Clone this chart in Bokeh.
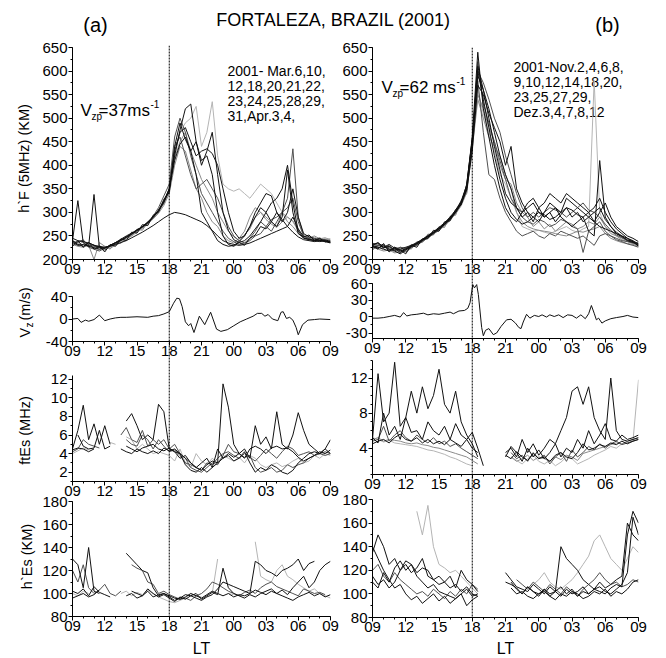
import numpy as np
from math import pi
from bokeh.plotting import figure
from bokeh.models import Range1d, FixedTicker, Span, Label
from bokeh.layouts import column
from bokeh.embed import file_html
from bokeh.resources import INLINE

W, H = 666, 658
FONT = "Liberation Sans"

# ---------------- data ----------------
# half-hourly local time from 09 LT to 09 LT next day (24 = 00 LT)
t_half = [9 + 0.5 * i for i in range(49)]
x_ticks = [9, 12, 15, 18, 21, 24, 27, 30, 33]
x_tick_labels = ["09", "12", "15", "18", "21", "00", "03", "06", "09"]

# (a) h'F, March-April 2001
hf_a1 = [240,325,235,228,225,222,225,230,236,243,250,256,263,270,279,290,305,325,350,420,475,520,530,450,400,430,470,380,300,262,242,236,240,250,265,280,300,320,330,350,400,320,260,245,242,240,238,240,236]
hf_a2 = [235,238,240,230,228,225,220,228,233,240,247,255,262,270,280,292,310,335,360,460,500,470,420,380,340,320,300,280,260,245,238,232,235,240,250,255,270,285,290,300,310,330,280,250,245,240,243,240,238]
hf_a3 = [230,235,228,232,225,230,222,226,232,238,245,252,260,268,276,288,300,318,345,420,470,490,500,525,440,470,535,420,360,350,345,350,340,330,345,360,350,340,320,300,290,280,260,250,245,248,242,245,240]
hf_a4 = [245,240,238,235,230,228,226,228,232,236,240,246,252,258,265,272,280,288,295,300,298,295,290,285,280,272,262,250,240,235,232,230,232,235,240,245,250,255,260,265,270,258,248,242,240,238,240,238,235]
hf_a5 = [240,232,228,236,230,226,224,230,236,241,248,254,262,269,278,290,303,322,348,430,470,480,450,420,430,435,425,400,350,300,260,245,250,270,300,320,340,335,300,280,300,350,290,255,248,245,240,242,238]
hf_a6 = [238,236,242,226,222,218,224,229,234,240,246,253,261,268,277,289,302,320,346,440,460,420,380,350,360,370,350,330,300,270,250,240,235,245,260,280,270,260,280,300,330,435,290,250,244,242,244,240,237]
hf_a7 = [232,228,226,230,200,236,228,224,230,236,243,250,258,266,275,286,298,315,340,400,440,430,390,350,330,300,280,270,250,240,235,245,260,290,310,300,290,280,270,300,280,270,255,248,246,250,244,246,242]
hf_a8 = [236,230,232,228,338,226,224,230,235,241,247,254,262,270,278,290,304,323,349,410,445,460,430,380,300,280,260,240,232,228,230,238,250,270,290,310,300,280,270,290,390,300,255,246,243,240,241,239,236]
hf_a9 = [242,230,238,226,232,220,228,222,236,234,248,250,265,262,280,286,306,318,352,415,450,470,430,400,370,350,330,300,280,260,248,240,252,265,290,300,285,275,268,280,290,282,262,250,247,243,246,241,244]
hf_a10 = [228,240,226,236,222,228,216,232,228,244,240,258,256,274,272,294,300,328,342,440,490,455,430,450,410,420,380,300,250,232,228,236,230,245,252,270,265,280,300,285,270,290,265,248,252,241,245,237,240]

# (b) h'F, November-December 2001
hf_b1 = [230,226,222,218,224,215,222,228,234,241,249,257,265,275,287,301,320,352,450,600,540,480,420,370,330,300,285,275,280,290,300,295,285,290,300,310,305,295,290,300,310,330,300,280,265,255,245,240,232]
hf_b2 = [222,228,220,225,215,220,218,226,232,240,247,255,263,272,284,298,316,345,440,560,510,470,430,380,360,330,300,270,265,260,262,258,255,260,265,270,262,258,265,270,580,300,270,260,250,245,240,236,230]
hf_b3 = [232,235,225,228,220,222,226,230,236,243,251,259,268,278,290,305,324,358,460,640,520,460,400,350,310,290,280,300,310,320,300,290,300,310,290,280,270,280,290,260,250,410,290,270,255,248,242,238,230]
hf_b4 = [228,224,230,222,218,212,220,227,233,240,248,256,265,274,286,300,318,348,430,570,550,510,480,450,400,440,350,320,300,290,280,300,320,310,300,330,320,310,300,290,280,270,265,260,255,250,245,238,228]
hf_b5 = [235,230,228,225,222,226,224,229,235,242,250,258,267,277,289,303,322,355,455,580,470,380,370,330,300,280,260,250,255,260,250,245,255,250,260,255,250,245,250,240,230,250,255,250,245,240,238,235,232]
hf_b6 = [226,222,218,220,214,216,221,226,231,238,246,254,262,271,283,297,314,342,435,540,500,460,440,420,380,350,300,280,270,265,262,260,258,255,252,250,255,260,258,262,265,270,255,245,240,236,234,232,228]
hf_b7 = [230,236,226,232,224,218,223,228,234,241,249,257,266,276,288,302,321,353,448,590,560,500,440,390,340,320,310,300,320,330,310,320,340,330,320,340,330,320,310,300,280,300,320,290,270,260,250,245,238]
hf_b8 = [225,230,232,220,226,222,216,225,231,238,246,254,263,273,285,299,317,347,445,620,530,490,450,410,370,330,310,290,280,275,285,280,270,275,285,280,270,265,215,260,270,280,260,250,242,238,233,230,226]
hf_b9 = [228,222,234,216,226,220,212,230,226,244,244,262,260,280,282,306,316,360,455,610,560,520,470,420,380,350,310,290,300,280,310,290,300,280,295,310,290,300,280,290,300,310,285,270,258,250,240,236,234]
hf_b10 = [234,226,228,220,222,214,226,222,238,236,254,252,270,268,292,294,326,340,448,550,520,480,450,400,370,360,320,300,290,270,280,265,275,260,270,280,275,265,270,280,275,290,270,255,250,242,238,234,230]
hf_b11 = [220,232,224,230,218,226,220,232,230,240,250,254,268,274,286,300,322,350,452,600,575,540,500,470,420,380,340,310,290,300,290,300,310,305,300,290,300,310,320,305,300,290,275,262,252,246,240,238,235]

# Vertical drift Vz (m/s)
vz_a_t = [9.0,9.5,9.8,10.2,10.5,11.0,11.5,12.0,12.5,13.0,13.5,14.0,15.0,16.0,16.5,17.0,17.5,18.0,18.4,18.7,18.95,19.2,19.5,19.8,20.0,20.3,20.8,21.3,21.85,22.4,22.8,23.4,24.0,24.6,25.2,25.8,26.2,26.6,26.9,27.2,27.6,28.1,28.4,28.6,28.9,29.2,29.5,29.8,30.0,30.4,30.9,31.5,32.0,33.0]
vz_a = [0,1,-6,-2,-4,-1,7,-3,0,2,3,3,4,3,5,6,9,13,28,37,36,22,-5,-12,-8,-24,5,-10,12,-18,-22,-19,-12,-5,0,5,10,10,5,8,0,-3,12,13,1,3,-2,-15,-28,-10,-2,-1,0,-1]
vz_b_t = [9.0,9.5,10.0,10.5,11.0,11.5,11.8,12.1,12.5,13.0,13.6,14.0,14.5,15.0,15.5,16.0,16.3,16.8,17.3,17.6,17.8,17.95,18.05,18.2,18.4,18.55,18.7,18.85,19.0,19.2,19.5,19.9,20.2,20.6,21.1,21.5,21.9,22.2,22.4,22.6,22.9,23.2,23.6,24.0,24.3,24.7,25.0,25.4,25.8,26.2,26.6,27.0,27.4,27.8,28.2,28.5,28.75,29.0,29.2,29.4,29.7,30.0,30.5,31.0,31.6,32.0,32.5,33.0]
vz_b = [-3,-3,-2,0,2,-1,7,1,3,4,6,3,5,4,6,8,5,10,11,15,25,45,58,52,58,40,10,-20,-35,-25,-22,-33,-30,-18,-6,-5,-12,-20,-22,-10,4,-3,2,0,3,-1,3,0,3,-2,3,2,-3,3,-4,5,20,6,-6,-3,-12,-8,-4,-2,0,2,-1,-2]

# ftEs (MHz)
fte_a1 = [4.5,6.5,9.2,5.5,7.2,5.0,7.0,5.0,None,None,7.5,8.3,7.0,5.5,6.0,5.5,9.3,8.5,4.5,4.2,4.0,3.5,3.0,2.5,3.0,3.5,2.5,3.0,11.5,9.0,5.0,4.0,4.5,3.5,7.0,5.0,5.8,4.5,8.5,5.0,4.5,6.0,8.4,6.5,5.0,4.5,4.0,4.5,5.5]
fte_a2 = [4.2,4.5,5.5,5.0,4.8,4.6,None,None,None,None,5.5,5.0,4.8,6.0,5.5,4.5,5.5,4.8,4.2,4.4,3.8,3.0,2.8,2.5,2.2,3.0,2.8,3.5,4.0,4.2,3.8,3.5,4.0,3.6,3.2,3.8,4.5,4.0,3.5,4.2,4.8,4.5,3.8,4.0,4.2,3.8,4.0,4.2,4.0]
fte_a3 = [None,6.0,4.8,4.5,4.6,6.5,4.5,4.8,None,4.5,4.2,4.0,4.5,4.2,4.0,4.3,4.0,4.6,4.3,4.5,4.0,2.8,2.2,2.0,2.5,2.0,2.5,4.5,3.5,3.8,3.2,3.5,4.2,3.0,2.0,2.5,2.2,2.8,2.5,2.0,1.8,2.2,3.0,3.5,4.0,4.2,4.0,4.5,4.0]
fte_a4 = [4.0,4.3,4.6,4.4,None,4.8,None,5.2,5.0,None,5.8,5.5,4.5,5.0,4.5,4.0,4.2,4.0,3.8,3.2,4.5,3.0,2.5,4.0,3.2,2.8,3.5,3.0,3.8,3.5,3.2,3.6,3.0,3.8,3.5,2.8,2.5,2.8,3.0,2.6,2.8,3.2,3.5,3.0,3.2,3.8,3.5,4.0,3.8]
fte_a5 = [4.4,4.6,4.5,4.2,4.5,None,None,None,None,None,4.8,4.5,4.2,4.6,4.8,5.0,4.5,4.3,4.6,4.2,3.5,3.8,3.0,2.5,2.2,2.8,3.2,3.0,3.5,4.0,3.6,4.0,3.5,4.5,4.8,4.5,4.0,4.6,4.8,4.5,4.6,4.2,3.6,3.2,3.5,3.8,4.2,4.0,4.4]
fte_a6 = [None,None,None,None,None,None,None,None,None,6.0,6.8,5.5,5.2,6.5,4.8,5.5,5.0,5.5,4.5,5.0,4.0,3.5,2.5,2.2,2.0,2.5,3.0,2.8,3.8,5.0,4.2,4.0,3.6,3.8,2.5,2.0,2.2,2.5,2.0,2.2,2.8,2.5,2.8,3.0,3.5,3.8,4.0,3.8,4.0]

fte_b1 = [5.0,12.5,7.0,8.0,13.8,6.5,7.5,10.5,8.0,11.0,8.5,10.0,13.0,9.0,8.0,10.5,7.0,5.5,4.5,3.0,None,None,None,None,3.5,4.0,3.0,5.0,3.5,4.5,3.2,4.0,5.0,4.5,6.0,7.5,10.5,11.0,9.0,11.0,7.5,6.0,5.0,12.0,6.0,5.0,4.8,5.0,5.2]
fte_b2 = [5.0,5.2,4.8,5.0,4.9,4.8,4.6,4.5,4.6,4.4,4.3,4.1,4.0,3.8,3.6,3.4,3.2,3.0,2.6,2.2,None,None,None,None,None,3.0,2.5,2.8,3.2,2.6,3.0,2.8,2.5,3.0,2.7,3.2,3.0,2.6,3.4,3.6,3.8,4.0,4.2,4.4,4.6,4.5,4.8,5.0,5.2]
fte_b3 = [5.2,4.6,8.0,5.5,6.5,5.0,7.5,5.8,6.0,5.0,7.0,6.0,5.5,6.5,5.0,6.8,5.5,5.0,5.8,4.0,2.0,None,None,None,3.0,4.2,3.5,2.5,4.0,3.0,3.8,2.8,3.5,4.5,3.0,4.0,3.5,5.0,4.0,6.0,4.5,5.5,6.8,5.0,4.8,5.5,5.0,5.2,5.5]
fte_b4 = [4.8,5.0,6.5,4.8,5.5,6.0,5.2,4.8,5.5,5.0,4.6,5.2,4.5,4.8,4.2,4.5,4.0,3.6,3.2,2.8,None,None,None,None,None,3.5,2.8,3.2,2.5,3.5,2.8,3.2,2.2,3.0,3.5,2.5,3.8,3.0,3.5,4.2,3.8,4.5,4.0,4.5,4.8,4.4,4.6,4.8,5.0]
fte_b5 = [4.5,4.8,5.0,4.6,5.2,5.6,5.0,4.8,5.2,4.6,5.0,4.5,4.8,4.4,5.0,4.6,4.2,5.0,4.0,3.5,None,None,None,None,3.2,2.8,3.6,3.0,2.6,3.4,2.8,3.0,2.5,3.2,3.5,3.0,2.8,3.5,4.5,3.8,4.0,4.4,4.2,4.6,4.4,4.8,4.5,4.8,5.0]
fte_b6 = [5.2,5.0,4.7,4.9,4.6,4.5,4.4,4.3,4.2,4.0,3.8,3.7,3.5,3.3,3.0,2.8,2.5,2.2,2.0,None,None,None,None,None,None,3.0,2.6,2.2,2.8,3.2,2.5,2.2,2.6,2.0,2.4,3.0,2.8,2.2,2.5,2.8,3.2,3.5,3.8,4.2,4.0,4.5,4.6,4.8,11.8]

# h'Es (km)
hes_a1 = [130,125,105,140,102,100,None,None,None,None,135,130,125,120,118,105,98,100,98,96,95,97,100,98,96,99,102,100,98,100,97,99,98,100,128,125,120,118,115,120,122,125,130,120,126,128,None,None,None]
hes_a2 = [120,110,125,105,100,103,108,100,98,102,None,125,122,120,110,108,100,102,99,97,95,96,94,98,100,104,110,108,105,102,100,98,101,103,100,105,108,110,106,104,102,100,98,104,102,100,101,99,None]
hes_a3 = [100,98,102,100,None,98,None,99,None,100,102,98,101,99,103,100,97,95,93,92,94,96,100,98,97,None,100,130,None,100,99,None,98,None,145,115,112,110,120,125,115,112,108,105,102,104,100,98,96]
hes_a4 = [102,100,104,98,106,101,99,97,None,None,98,100,96,98,102,97,99,100,97,94,96,99,98,96,94,97,99,104,110,108,106,104,102,100,103,101,99,102,100,98,96,94,97,99,101,98,100,97,99]
hes_a5 = [96,98,100,97,99,103,None,None,None,None,None,102,100,98,104,100,97,99,96,93,97,95,98,100,95,98,101,99,122,105,100,98,96,99,97,100,102,104,100,103,99,105,110,115,105,110,120,125,128]

hes_b1 = [135,150,140,125,130,120,125,118,122,130,115,112,108,110,115,105,120,112,108,102,None,None,None,None,110,108,105,100,106,102,100,104,98,102,106,100,104,98,102,100,104,110,105,108,112,115,160,150,145]
hes_b2 = [110,105,118,110,122,128,120,125,115,110,105,108,102,100,98,96,100,104,98,100,None,None,None,None,118,112,106,104,102,108,104,100,106,102,140,130,125,120,112,108,104,106,102,100,104,108,118,165,150]
hes_b3 = [140,130,120,112,105,108,100,95,98,92,96,100,94,98,92,96,100,90,95,98,None,None,None,None,None,105,100,102,98,96,100,102,98,95,100,98,102,100,96,98,102,100,104,98,102,100,104,110,112]
hes_b4 = [None,None,None,None,None,None,None,None,170,150,175,140,125,122,118,120,115,110,105,100,None,None,None,None,None,None,None,88,None,108,112,118,110,106,104,108,112,118,125,132,145,150,140,130,125,120,130,140,135]
hes_b5 = [115,108,112,105,110,120,128,125,118,122,120,112,115,110,105,108,102,106,100,98,None,None,None,None,None,110,104,100,106,102,98,104,100,102,98,104,100,102,106,100,104,102,100,105,108,106,150,170,160]
hes_b6 = [120,125,115,110,118,112,108,104,100,102,98,104,100,96,102,98,104,100,108,104,None,None,None,None,None,None,112,108,104,110,106,102,108,104,100,106,102,98,104,108,112,118,112,108,110,106,108,112,110]

BK, DG, MG, LG = "#111111", "#505050", "#8a8a8a", "#b4b4b4"

# ---------------- layout helpers ----------------
# every figure shares the same left/right border so the column does not realign them;
# each figure is then shifted into place with its CSS margin.
L0, R0 = 72, 10


def base_fig(fl, fr, ft, fb, xr, yr):
    f = figure(width=L0 + (fr - fl) + R0, height=H, output_backend="svg",
               toolbar_location=None, x_range=xr, y_range=yr,
               min_border_left=L0, min_border_right=R0,
               min_border_top=ft, min_border_bottom=H - fb,
               background_fill_color=None, border_fill_color=None,
               outline_line_color=None)
    f.tags = [fl - L0]
    return f


def style_axis(ax, ticks, minor, overrides, standoff):
    ax.ticker = FixedTicker(ticks=ticks, minor_ticks=minor)
    ax.major_label_overrides = overrides
    ax.major_label_text_font = FONT
    ax.major_label_text_font_size = "15px"
    ax.major_label_text_color = "black"
    ax.major_label_standoff = standoff
    ax.axis_line_color = "black"
    ax.major_tick_line_color = "black"
    ax.minor_tick_line_color = "black"
    ax.major_tick_in = 0
    ax.major_tick_out = 4
    ax.minor_tick_in = 0
    ax.minor_tick_out = 2


def panel(fl, fr, ft, fb, y0, y1, yticks, yminor, series):
    p = base_fig(fl, fr, ft, fb, Range1d(9, 33), Range1d(y0, y1))
    p.grid.visible = False
    style_axis(p.xaxis[0], x_ticks, list(range(9, 34)),
               {k: v for k, v in zip(x_ticks, x_tick_labels)}, 0)
    style_axis(p.yaxis[0], yticks, yminor, {k: str(k) for k in yticks}, 1)
    for xs, ys, col in series:
        p.line(xs, np.array(ys, dtype=float), line_color=col, line_width=1)
    return p


AL, AR = 72, 330
BL, BR = 372, 638

A1 = panel(AL, AR, 47, 259, 200, 650, list(range(200, 651, 50)), list(range(200, 651, 25)),
           [(t_half, hf_a7, MG), (t_half, hf_a3, LG), (t_half, hf_a9, MG), (t_half, hf_a2, DG),
            (t_half, hf_a6, DG), (t_half, hf_a1, BK), (t_half, hf_a4, BK), (t_half, hf_a5, BK),
            (t_half, hf_a8, BK), (t_half, hf_a10, BK)])
A2 = panel(AL, AR, 296, 341, -40, 40, [-40, 0, 40], [-40, -20, 0, 20, 40],
           [(vz_a_t, vz_a, BK)])
A3 = panel(AL, AR, 375, 481, 1, 12.4, [2, 4, 6, 8, 10, 12], list(range(1, 13)),
           [(t_half, fte_a4, LG), (t_half, fte_a2, DG), (t_half, fte_a6, DG),
            (t_half, fte_a3, BK), (t_half, fte_a5, BK), (t_half, fte_a1, BK)])
A4 = panel(AL, AR, 501, 616, 80, 180, list(range(80, 181, 20)), list(range(80, 181, 10)),
           [(t_half, hes_a3, LG), (t_half, hes_a2, DG), (t_half, hes_a4, BK),
            (t_half, hes_a5, BK), (t_half, hes_a1, BK)])

B1 = panel(BL, BR, 47, 259, 200, 650, list(range(200, 651, 50)), list(range(200, 651, 25)),
           [(t_half, hf_b2, LG), (t_half, hf_b6, MG), (t_half, hf_b10, MG), (t_half, hf_b5, DG),
            (t_half, hf_b8, DG), (t_half, hf_b11, DG), (t_half, hf_b1, BK), (t_half, hf_b3, BK),
            (t_half, hf_b4, BK), (t_half, hf_b7, BK), (t_half, hf_b9, BK)])
B2 = panel(BL, BR, 283, 338, -40, 60, [-30, 0, 30, 60], [-30, -15, 0, 15, 30, 45, 60],
           [(vz_b_t, vz_b, BK)])
B3 = panel(BL, BR, 360, 474, 1, 14, [4, 8, 12], list(range(1, 15)),
           [(t_half, fte_b6, LG), (t_half, fte_b2, MG), (t_half, fte_b4, DG),
            (t_half, fte_b3, BK), (t_half, fte_b5, BK), (t_half, fte_b1, BK)])
B4 = panel(BL, BR, 499, 617, 80, 180, list(range(80, 181, 20)), list(range(80, 181, 10)),
           [(t_half, hes_b4, LG), (t_half, hes_b6, DG), (t_half, hes_b3, BK),
            (t_half, hes_b5, BK), (t_half, hes_b2, BK), (t_half, hes_b1, BK)])


# dotted 18 LT reference line spanning each whole column
def vline(fl, fr, ft, fb):
    f = base_fig(fl, fr, ft, fb, Range1d(9, 33), Range1d(0, 1))
    f.xaxis.visible = False
    f.yaxis.visible = False
    f.grid.visible = False
    f.add_layout(Span(location=18, dimension="height", line_color="black",
                      line_width=1, line_dash="2 1"))
    return f


VA = vline(AL, AR, 45, 616)
VB = vline(BL, BR, 47, 617)


# text overlays: data coordinates equal page pixels
def text_fig(fl, fr):
    f = base_fig(fl, fr, 0, H, Range1d(fl, fr), Range1d(0, H))
    f.xaxis.visible = False
    f.yaxis.visible = False
    f.grid.visible = False
    return f


ov = text_fig(L0, W - R0)      # main area, x 72..656
ovl = text_fig(0, 70)          # left strip for the y-axis titles


def txt(fig, x, py, s, size, align="left", angle=0.0, baseline="middle"):
    fig.add_layout(Label(x=x, y=H - py, text=s, text_font=FONT, text_font_size=size,
                         text_align=align, text_baseline=baseline, angle=angle,
                         text_color="black"))


txt(ov, 333, 19, "FORTALEZA, BRAZIL (2001)", "18px", "center")
txt(ov, 95, 24, "(a)", "20px", "center")
txt(ov, 607, 24, "(b)", "20px", "center")

for i, s in enumerate(["2001- Mar.6,10,", "12,18,20,21,22,", "23,24,25,28,29,", "31,Apr.3,4,"]):
    txt(ov, 227, 70 + 15 * i, s, "14px")
for i, s in enumerate(["2001-Nov.2,4,6,8,", "9,10,12,14,18,20,", "23,25,27,29,", "Dez.3,4,7,8,12"]):
    txt(ov, 513, 66 + 15 * i, s, "14px")

# V_zp annotations
txt(ov, 80, 110, "V", "17px")
txt(ov, 91, 116, "zp", "10px")
txt(ov, 98, 110, "=37ms", "17px")
txt(ov, 150, 103, "-1", "10px")
txt(ov, 381, 87, "V", "17px")
txt(ov, 392, 93, "zp", "10px")
txt(ov, 399, 87, "=62 ms", "17px")
txt(ov, 456, 80, "-1", "10px")

txt(ov, (AL + AR) / 2, 648, "LT", "16px", "center")
txt(ov, (BL + BR) / 2, 648, "LT", "16px", "center")

# y-axis titles (rotated)
txt(ovl, 23, 158, "h`F (5MHz) (KM)", "14.5px", "center", pi / 2)
txt(ovl, 24, 337, "V", "14.5px", "left", pi / 2)
txt(ovl, 29, 327, "z", "10px", "left", pi / 2)
txt(ovl, 24, 320, "(m/s)", "14.5px", "left", pi / 2)
txt(ovl, 24, 430, "ftEs (MHz)", "14.5px", "center", pi / 2)
txt(ovl, 26, 556, "h`Es (KM)", "14.5px", "center", pi / 2)

figs = [ov, ovl, A1, A2, A3, A4, B1, B2, B3, B4, VA, VB]
for i, f in enumerate(figs):
    top = 0 if i == 0 else -H
    f.margin = (top, 0, 0, f.tags[0])
    f.tags = []
layout = column(*figs, spacing=0)

open("out.html", "w").write(file_html(layout, INLINE))
